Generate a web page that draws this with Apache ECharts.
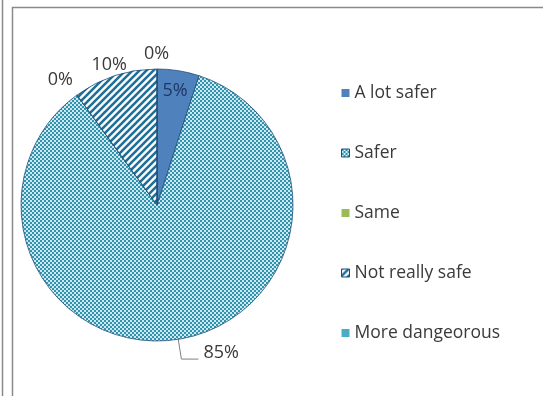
<!DOCTYPE html>
<html>
<head>
<meta charset="utf-8">
<script src="https://cdn.jsdelivr.net/npm/echarts@6/dist/echarts.min.js"></script>
<style>
html,body{margin:0;padding:0;background:#fff;}
#c{width:543px;height:396px;}
</style>
</head>
<body>
<div id="c"></div>
<script>
const categories = ['A lot safer', 'Safer', 'Same', 'Not really safe', 'More dangeorous'];
const values = [5, 85, 0, 10, 0];

function checker() {
  const c = document.createElement('canvas');
  c.width = 4; c.height = 4;
  const g = c.getContext('2d');
  g.fillStyle = '#cfe8ef'; g.fillRect(0, 0, 4, 4);
  g.fillStyle = '#2f94ae';
  g.fillRect(0, 0, 2, 2); g.fillRect(2, 2, 2, 2);
  return c;
}
function stripes() {
  const c = document.createElement('canvas');
  c.width = 7; c.height = 7;
  const g = c.getContext('2d');
  g.fillStyle = '#ffffff'; g.fillRect(0, 0, 7, 7);
  g.strokeStyle = '#1f7099'; g.lineWidth = 2.6;
  g.beginPath();
  g.moveTo(-3.5, 3.5); g.lineTo(3.5, -3.5);
  g.moveTo(0, 7); g.lineTo(7, 0);
  g.moveTo(3.5, 10.5); g.lineTo(10.5, 3.5);
  g.stroke();
  return c;
}

const fills = [
  '#4F81BD',
  { image: checker(), repeat: 'repeat' },
  '#9BBB59',
  { image: stripes(), repeat: 'repeat' },
  '#4BACC6'
];
const labelLen = [10, 20, 14, 10, 12];
const labelLen2 = [0, 17, 0, 0, 0];
// small nudges of the outside labels (text only), per slice
const nudges = [[0, 0], [0, 3], [9, -4], [20, -1], [-18, -3]];

const chart = echarts.init(document.getElementById('c'));
const mainData = categories.map((n, i) => ({
  name: n,
  value: values[i],
  itemStyle: { color: fills[i] },
  label: { show: i !== 0 },
  labelLine: { show: i === 1, length: labelLen[i], length2: labelLen2[i] }
}));
const overlayData = categories.map((n, i) => ({
  name: n,
  value: values[i],
  label: { show: i === 0 }
}));
const legendData = categories.map((n, i) => ({
  name: n,
  itemStyle: (i === 1 || i === 3) ? { borderColor: '#1f4e79', borderWidth: 1 } : { borderWidth: 0 }
}));

chart.setOption({
  animation: false,
  graphic: [
    { type: 'line', shape: { x1: 2.5, y1: 0, x2: 2.5, y2: 396 }, style: { stroke: '#8a8a8a', lineWidth: 1.5 } },
    { type: 'rect', shape: { x: 12.5, y: 7.5, width: 620, height: 500 }, style: { fill: 'none', stroke: '#8a8a8a', lineWidth: 1.5 } }
  ],
  legend: {
    orient: 'vertical',
    left: 341,
    top: 83,
    padding: 0,
    itemWidth: 8,
    itemHeight: 8,
    itemGap: 40,
    icon: 'rect',
    data: legendData,
    textStyle: { fontFamily: 'Open Sans', fontSize: 17.5, color: '#3a3a3a', lineHeight: 20 }
  },
  series: [
    {
      type: 'pie',
      center: [157, 205],
      radius: [0, 136],
      startAngle: 90,
      clockwise: true,
      avoidLabelOverlap: false,
      itemStyle: { borderColor: '#1f4e79', borderWidth: 0.8 },
      label: {
        position: 'outside',
        formatter: '{c}%',
        fontFamily: 'Open Sans',
        fontSize: 18,
        color: '#3a3a3a'
      },
      labelLine: { lineStyle: { color: '#808080', width: 1 } },
      labelLayout: function (p) {
        const n = nudges[p.dataIndex];
        if (p.dataIndex === 1) return { verticalAlign: 'bottom', dy: n[1] };
        return { dx: n[0], dy: n[1] };
      },
      emphasis: { disabled: true },
      data: mainData
    },
    {
      type: 'pie',
      center: [157, 205],
      radius: [90, 136],
      startAngle: 90,
      clockwise: true,
      silent: true,
      legendHoverLink: false,
      itemStyle: { color: 'rgba(0,0,0,0)', borderWidth: 0 },
      label: {
        position: 'inside',
        formatter: '{c}%',
        fontFamily: 'Open Sans',
        fontSize: 18,
        color: '#1f3864'
      },
      labelLine: { show: false },
      emphasis: { disabled: true },
      data: overlayData
    }
  ]
});
</script>
</body>
</html>
